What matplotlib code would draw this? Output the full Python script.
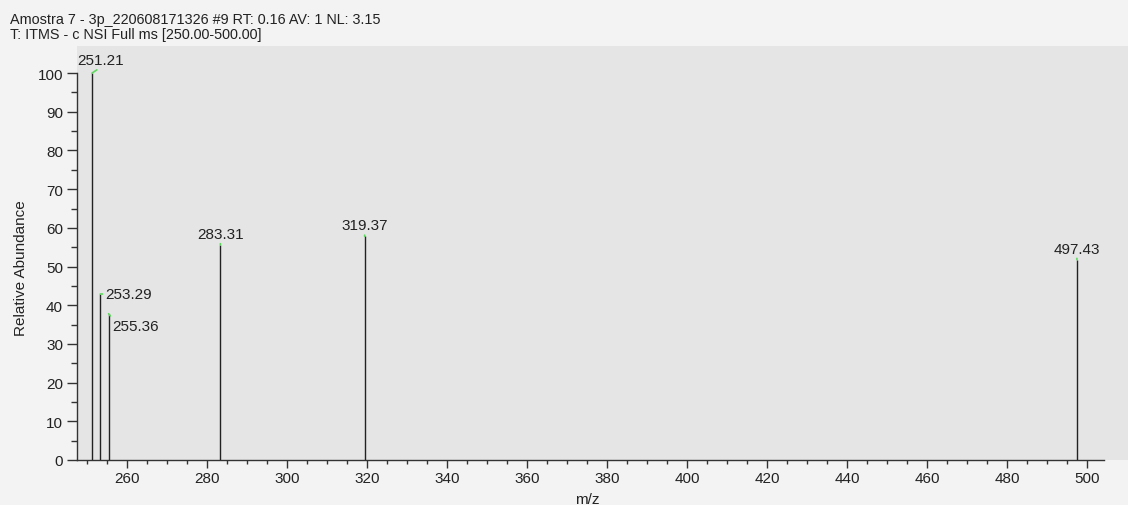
import matplotlib
matplotlib.use("Agg")
import matplotlib.pyplot as plt
from matplotlib.ticker import MultipleLocator, FixedLocator

plt.rcParams["font.family"] = ["Liberation Sans", "DejaVu Sans"]
plt.rcParams["font.size"] = 10.5

# ---------------------------------------------------------------------------
# Data
# ---------------------------------------------------------------------------
mz = [251.21, 253.29, 255.36, 283.31, 319.37, 497.43]
abundance = [100.0, 42.9, 37.8, 55.6, 57.8, 51.8]
peak_labels = ["251.21", "253.29", "255.36", "283.31", "319.37", "497.43"]

x_major = list(range(260, 501, 20))
x_minor = list(range(250, 501, 5))

title_lines = ["Amostra 7 - 3p_220608171326 #9 RT: 0.16 AV: 1 NL: 3.15",
               "T: ITMS - c NSI Full ms [250.00-500.00]"]

# label placement: (dx px, dy px, ha, va, leader relpos)
LABEL_POS = [
    (9, 6, "center", "bottom", (0.5, 0.0)),
    (5, 0, "left", "center", (0.0, 0.5)),
    (4, -12, "left", "center", (0.0, 1.0)),
    (0, 4, "center", "bottom", (0.5, 0.0)),
    (0, 4, "center", "bottom", (0.5, 0.0)),
    (0, 4, "center", "bottom", (0.5, 0.0)),
]

BG = "#f3f3f3"
PANEL = "#e5e5e5"
INK = "#222222"
LEADER = "#5fd85f"

XMIN, XMAX, XEND = 247.46, 510.2, 504.2

fig = plt.figure(figsize=(11.28, 5.06), dpi=100, facecolor=BG)
ax = fig.add_axes([77 / 1128, 45 / 506, 1 - 77 / 1128, 414 / 506])
ax.set_facecolor(PANEL)

ax.vlines(mz, 0, abundance, color=INK, lw=1.0, zorder=3)

for x, y, lab, (dx, dy, ha, va, rp) in zip(mz, abundance, peak_labels, LABEL_POS):
    ax.annotate(lab, xy=(x, y), xytext=(dx, dy), textcoords="offset pixels",
                ha=ha, va=va, color=INK, fontsize=11,
                arrowprops=dict(arrowstyle="-", color=LEADER, lw=1.2,
                                shrinkA=0, shrinkB=0, relpos=rp),
                zorder=4)

for s in ["top", "right"]:
    ax.spines[s].set_visible(False)
ax.spines["left"].set_bounds(0, 100)
ax.spines["bottom"].set_bounds(XMIN, XEND)
for s in ["left", "bottom"]:
    ax.spines[s].set_color("#333333")
    ax.spines[s].set_linewidth(1.0)

ax.xaxis.set_major_locator(FixedLocator(x_major))
ax.xaxis.set_minor_locator(FixedLocator(x_minor))
ax.yaxis.set_major_locator(MultipleLocator(10))
ax.yaxis.set_minor_locator(MultipleLocator(5))
ax.set_yticks(list(range(0, 101, 10)))
ax.set_yticks(list(range(5, 100, 10)), minor=True)
ax.tick_params(axis="y", which="major", length=7, width=1, color="#333333",
               labelcolor=INK, pad=3, labelsize=11)
ax.tick_params(axis="y", which="minor", length=4.5, width=1, color="#333333")
ax.tick_params(axis="x", which="major", length=6, width=1, color="#333333",
               labelcolor=INK, pad=2, labelsize=11)
ax.tick_params(axis="x", which="minor", length=3, width=1, color="#333333")
ax.set_ylim(0, 107)
ax.set_xlim(XMIN, XMAX)

ax.set_ylabel("Relative Abundance", color=INK, fontsize=11)
ax.yaxis.set_label_coords(-0.0464, 0.466)
ax.set_xlabel("m/z", color=INK, va="center", fontsize=11)
ax.xaxis.set_label_coords(0.486, -0.094)

fig.text(10 / 1128, 1 - 20 / 506, title_lines[0], ha="left", va="center",
         color=INK, fontsize=10.4)
fig.text(10 / 1128, 1 - 35 / 506, title_lines[1], ha="left", va="center",
         color=INK, fontsize=10.4)

fig.savefig("out.png", dpi=100, facecolor=BG)
